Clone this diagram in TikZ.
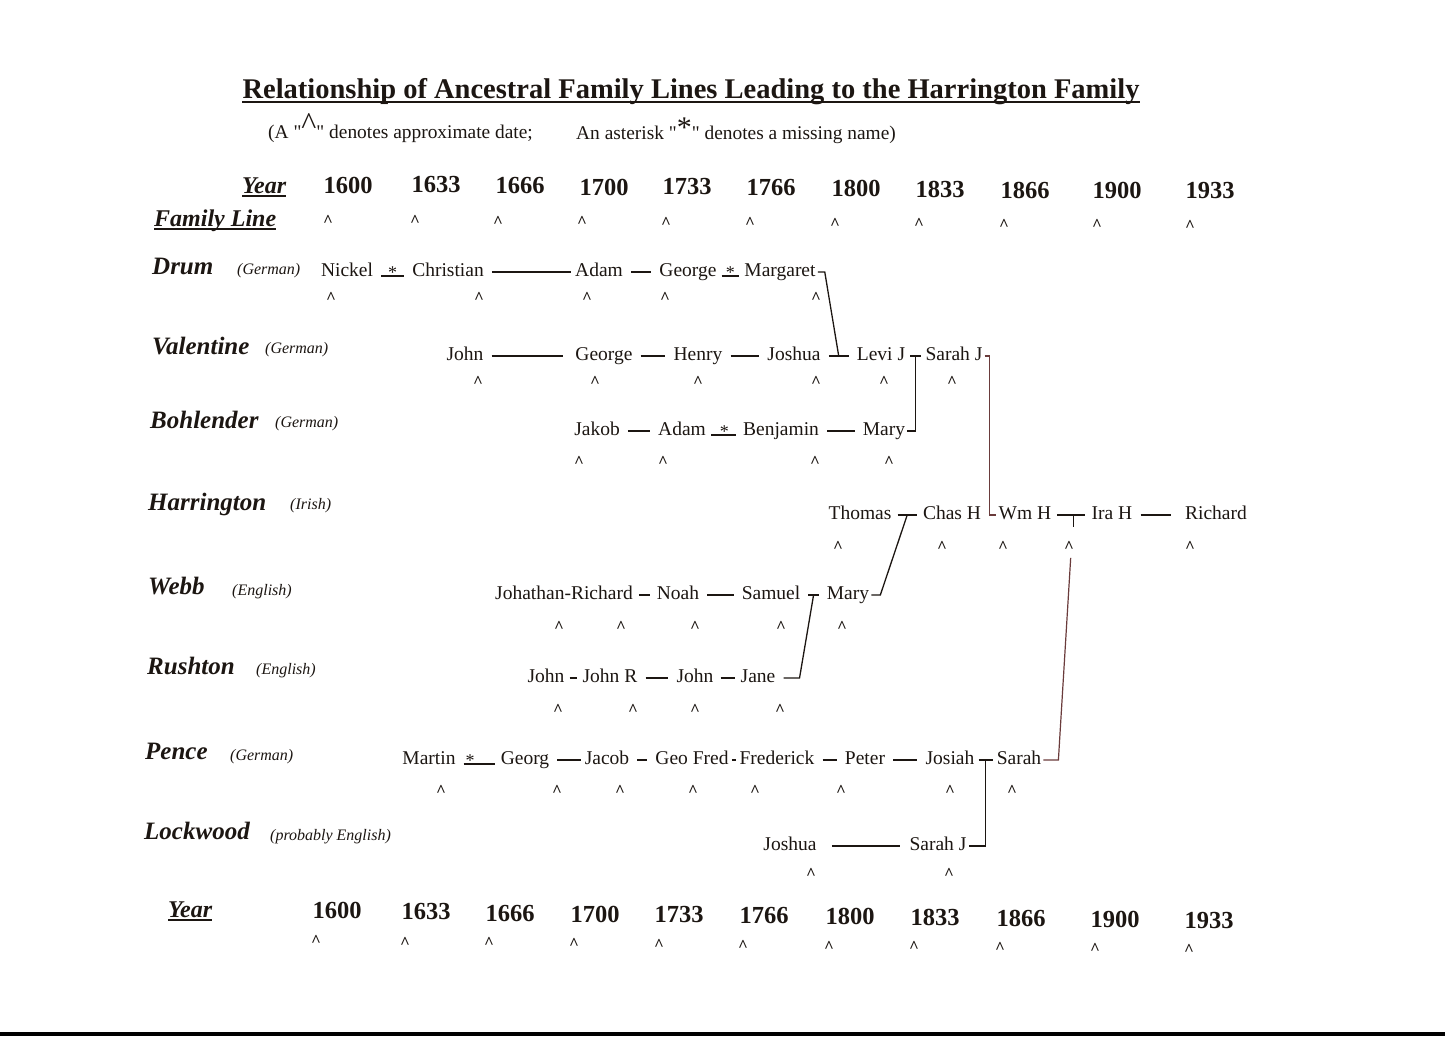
\documentclass[tikz,border=0pt]{standalone}
\usepackage{fontspec}
\setmainfont{Liberation Serif}
\newfontfamily\qf{Liberation Serif}
\usetikzlibrary{calc}
\definecolor{ink}{HTML}{1C1612}
\definecolor{rust}{HTML}{6A3B3B}
\newcommand\fsz[1]{\fontsize{#1}{#1}\selectfont}
\newcommand\dq{{\qf\symbol{34}}}
\begin{document}
\begin{tikzpicture}[x=1pt,y=-1pt,
  every node/.style={text=ink},
  nm/.style={font=\fsz{19.5}, text height=12pt, text depth=3pt, inner sep=2pt},
  fam/.style={font=\fsz{25}\bfseries\itshape, anchor=base west, inner sep=0pt},
  orig/.style={font=\fsz{16}\itshape, anchor=base west, inner sep=0pt},
  yr/.style={font=\fsz{24.5}\bfseries, inner sep=0pt},
  car/.style={font=\fsz{17}\bfseries, text height=16.7pt, text depth=0pt, inner sep=0pt},
  ast/.style={font=\fsz{18}, inner sep=0pt},
  ln/.style={draw=ink, line width=1.4pt, shorten <=6pt, shorten >=6pt},
  lk/.style={draw=ink, line width=1.3pt},
  rl/.style={draw=rust, line width=1.2pt},
  ul/.style={draw=ink, line width=1.8pt},
]
\fill[white] (0,0) rectangle (1445,1036);
\useasboundingbox (0,0) rectangle (1445,1036);
\fill[black] (0,1032) rectangle (1445,1036);

% title
\node[font=\fsz{28.5}\bfseries, anchor=base, inner sep=0pt] (title) at (691,98) {Relationship of Ancestral Family Lines Leading to the Harrington Family};
\draw[ink, line width=2.2pt] ([yshift=-4pt]title.base west) -- ([yshift=-4pt]title.base east);
\node[font=\fsz{19.4}, anchor=base west, inner sep=0pt] (sub1) at (268,138) {(A \dq\raisebox{4pt}{\fsz{32}\textasciicircum}\dq\ denotes approximate date;};
\node[font=\fsz{19.4}, anchor=base west, inner sep=0pt] (sub2) at (576,139) {An asterisk \dq\raisebox{2pt}{\fsz{30}*}\dq\ denotes a missing name)};

% header rows
\node[fam, font=\fsz{24}\bfseries\itshape] (yearT) at (242,193) {Year};
\draw[ul] ([yshift=-3pt]yearT.base west) -- ([yshift=-3pt]yearT.base east);
\node[fam, font=\fsz{24}\bfseries\itshape] (famline) at (154,226) {Family Line};
\draw[ul] ([yshift=-3pt]famline.base west) -- ([yshift=-3pt]famline.base east);
\node[fam, font=\fsz{24}\bfseries\itshape] (yearB) at (168,917) {Year};
\draw[ul] ([yshift=-3pt]yearB.base west) -- ([yshift=-3pt]yearB.base east);

\foreach \x/\y/\t [count=\i] in {348/185/1600,436/185/1633,520/186/1666,604/187/1700,687/187/1733,771/188/1766,856/188/1800,940/189/1833,1025/190/1866,1117/190/1900,1210/191/1933}
  \node[yr] (yt\i) at (\x,\y) {\t};
\foreach \x/\y [count=\i] in {328/218,415/218,498/219,582/219,666/220,750/220,835/221,919/221,1004/222,1097/222,1190/223}
  \node[car] (ct\i) at (\x,\y) {\textasciicircum};
\foreach \x/\y/\t [count=\i] in {337/910/1600,426/911/1633,510/913/1666,595/914/1700,679/914/1733,764/915/1766,850/916/1800,935/917/1833,1021/918/1866,1115/919/1900,1209/920/1933}
  \node[yr] (yb\i) at (\x,\y) {\t};
\foreach \x/\y [count=\i] in {316/938,405/940,489/940,574/941,659/942,743/943,829/944,914/944,1000/945,1095/946,1189/947}
  \node[car] (cb\i) at (\x,\y) {\textasciicircum};

% family labels
\node[fam] (fDrum) at (152,274) {Drum};
\node[orig] (oDrum) at (237,274) {(German)};
\node[fam] (fVal) at (152,354) {Valentine};
\node[orig] (oVal) at (265,353) {(German)};
\node[fam] (fBoh) at (150,428) {Bohlender};
\node[orig] (oBoh) at (275,427) {(German)};
\node[fam] (fHar) at (148,510) {Harrington};
\node[orig] (oHar) at (290,509) {(Irish)};
\node[fam] (fWebb) at (148,594) {Webb};
\node[orig] (oWebb) at (232,595) {(English)};
\node[fam] (fRush) at (147,674) {Rushton};
\node[orig] (oRush) at (256,674) {(English)};
\node[fam] (fPen) at (145,759) {Pence};
\node[orig] (oPen) at (230,760) {(German)};
\node[fam] (fLock) at (144,839) {Lockwood};
\node[orig] (oLock) at (270,840) {(probably English)};

% ---- Drum
\node[nm] (nickel) at (347,272) {Nickel};
\node[nm] (christian) at (448,272) {Christian};
\node[nm] (adamD) at (599,272) {Adam};
\node[nm] (georgeD) at (688,272) {George};
\node[nm] (margaret) at (780,272) {Margaret};
\foreach \x [count=\i] in {331,479,587,665,816} \node[car] (cD\i) at (\x,295) {\textasciicircum};

% ---- Valentine
\node[nm] (johnV) at (465,356) {John};
\node[nm] (georgeV) at (604,356) {George};
\node[nm] (henry) at (698,356) {Henry};
\node[nm] (joshuaV) at (794,356) {Joshua};
\node[nm] (levi) at (881,356) {Levi J};
\node[nm] (sarahJV) at (954,356) {Sarah J};
\foreach \x [count=\i] in {478,595,698,816,884,952} \node[car] (cV\i) at (\x,379) {\textasciicircum};

% ---- Bohlender
\node[nm] (jakob) at (597,431) {Jakob};
\node[nm] (adamB) at (682,431) {Adam};
\node[nm] (benjamin) at (781,431) {Benjamin};
\node[nm] (maryB) at (884,431) {Mary};
\foreach \x [count=\i] in {579,663,815,889} \node[car] (cB\i) at (\x,459) {\textasciicircum};

% ---- Harrington
\node[nm] (thomas) at (860,515) {Thomas};
\node[nm] (chas) at (952,515) {Chas H};
\node[nm] (wm) at (1025,515) {Wm H};
\node[nm] (ira) at (1112,515) {Ira H};
\node[nm] (richardH) at (1216,515) {Richard};
\foreach \x [count=\i] in {838,942,1003,1069,1190} \node[car] (cH\i) at (\x,544) {\textasciicircum};

% ---- Webb
\node[nm] (johrich) at (564,595) {Johathan-Richard};
\node[nm] (noah) at (678,595) {Noah};
\node[nm] (samuel) at (771,595) {Samuel};
\node[nm] (maryW) at (848,595) {Mary};
\foreach \x [count=\i] in {559,621,695,781,842} \node[car] (cW\i) at (\x,624) {\textasciicircum};

% ---- Rushton
\node[nm] (johnR1) at (546,678) {John};
\node[nm] (johnRR) at (610,678) {John R};
\node[nm] (johnR2) at (695,678) {John};
\node[nm] (jane) at (758,678) {Jane};
\foreach \x [count=\i] in {558,633,695,780} \node[car] (cR\i) at (\x,707) {\textasciicircum};

% ---- Pence
\node[nm] (martin) at (429,760) {Martin};
\node[nm] (georg) at (525,760) {Georg};
\node[nm] (jacob) at (607,760) {Jacob};
\node[nm] (geofred) at (692,760) {Geo Fred};
\node[nm] (frederick) at (777,760) {Frederick};
\node[nm] (peter) at (865,760) {Peter};
\node[nm] (josiah) at (950,760) {Josiah};
\node[nm] (sarahP) at (1019,760) {Sarah};
\foreach \x [count=\i] in {441,557,620,693,755,841,950,1012} \node[car] (cP\i) at (\x,788) {\textasciicircum};

% ---- Lockwood
\node[nm] (joshuaL) at (790,846) {Joshua};
\node[nm] (sarahJL) at (938,846) {Sarah J};
\foreach \x [count=\i] in {811,949} \node[car] (cL\i) at (\x,871) {\textasciicircum};

% ===== connectors
% Drum
\draw[ln] ([yshift=-4pt]nickel.east) -- ([yshift=-4pt]christian.west) node[ast, midway, above=-3pt] (s1) {*};
\draw[ln, shorten >=2pt] (christian.east) -- (adamD.west);
\draw[ln] (adamD.east) -- (georgeD.west);
\draw[ln, shorten <=3pt, shorten >=3pt] ([yshift=-4pt]georgeD.east) -- ([yshift=-4pt]margaret.west) node[ast, midway, above=-3pt] (s2) {*};
\coordinate (jJL) at ($(joshuaV.east)!0.5!(levi.west)$);
\draw[lk] (margaret.east) -- ++(7,0) -- (jJL);

% Valentine
\draw[ln, shorten >=10pt] (johnV.east) -- (georgeV.west);
\draw[ln] (georgeV.east) -- (henry.west);
\draw[ln] (henry.east) -- (joshuaV.west);
\draw[ln] (joshuaV.east) -- (levi.west);
\draw[ln, shorten <=3pt, shorten >=2pt] (levi.east) -- (sarahJV.west);
\coordinate (jLS) at ($(levi.east)!0.5!(sarahJV.west)$);
\draw[lk] (jLS) |- (maryB.east);
\coordinate (jCW) at ($(chas.east)!0.5!(wm.west)$);
\draw[rl] (sarahJV.east) -| (jCW) -- ([xshift=-1pt]wm.west);

% Bohlender
\draw[ln] (jakob.east) -- (adamB.west);
\draw[ln, shorten <=3pt, shorten >=5pt] ([yshift=-4pt]adamB.east) -- ([yshift=-4pt]benjamin.west) node[ast, midway, above=-3pt] (s3) {*};
\draw[ln] (benjamin.east) -- (maryB.west);

% Harrington
\draw[ln, shorten <=4pt, shorten >=4pt] (thomas.east) -- (chas.west);
\coordinate (jTC) at ($(thomas.east)!0.5!(chas.west)$);
\draw[lk] (maryW.east) -- ++(9,0) -- (jTC);
\draw[ln, shorten <=4pt, shorten >=5pt] (wm.east) -- (ira.west);
\coordinate (jWI) at ($(wm.east)!0.55!(ira.west)$);
\draw[lk] (jWI) -- ++(0,12);
\draw[ln, shorten >=12pt] (ira.east) -- (richardH.west);

% Webb
\draw[ln, shorten <=4pt, shorten >=5pt] (johrich.east) -- (noah.west);
\draw[ln] (noah.east) -- (samuel.west);
\draw[ln] (samuel.east) -- (maryW.west);
\coordinate (jSM) at ($(samuel.east)!0.5!(maryW.west)$);
\draw[lk] ([xshift=6pt]jane.east) -- ++(16,0) -- (jSM);

% Rushton
\draw[ln, shorten <=3pt, shorten >=3pt] (johnR1.east) -- (johnRR.west);
\draw[ln] (johnRR.east) -- (johnR2.west);
\draw[ln, shorten <=5pt, shorten >=3pt] (johnR2.east) -- (jane.west);

% Pence
\draw[ln, shorten <=6pt, shorten >=4pt] ([yshift=-4pt]martin.east) -- ([yshift=-4pt]georg.west) node[ast, pos=0.3, above=-3pt] (s4) {*};
\draw[ln, shorten >=2pt] (georg.east) -- (jacob.west);
\draw[ln] (jacob.east) -- (geofred.west);
\draw[ln, shorten <=1pt, shorten >=1pt] (geofred.east) -- (frederick.west);
\draw[ln] (frederick.east) -- (peter.west);
\draw[ln] (peter.east) -- (josiah.west);
\draw[ln, shorten <=2pt, shorten >=2pt] (josiah.east) -- (sarahP.west);
\coordinate (jJS) at ($(josiah.east)!0.5!(sarahP.west)$);
\draw[lk] (jJS) |- (sarahJL.east);
\draw[rl, shorten >=43pt] (sarahP.east) -- ++(15,0) -- (jWI);

% Lockwood
\draw[ln, shorten <=13pt, shorten >=7pt] (joshuaL.east) -- (sarahJL.west);
\end{tikzpicture}
\end{document}
